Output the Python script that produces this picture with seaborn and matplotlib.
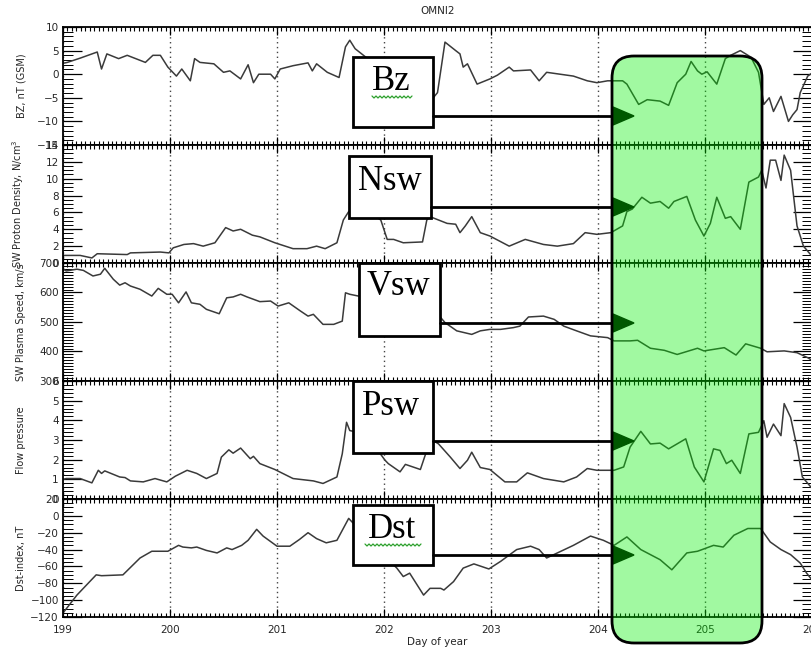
"""
OMNI2 stack plot: Bz, Nsw, Vsw, Psw, Dst vs day of year,
with annotation boxes and a green highlight window.
"""

import numpy as np
import pandas as pd
import matplotlib
matplotlib.use('Agg')
import matplotlib.pyplot as plt
import seaborn as sns
from matplotlib.ticker import MultipleLocator
from matplotlib.patches import FancyBboxPatch, Rectangle, Polygon
from matplotlib.transforms import IdentityTransform

# ---------------- data ----------------
bz_day = [199.00, 199.04, 199.16, 199.32, 199.36, 199.41, 199.52, 199.60, 199.77, 199.84,
          199.91, 199.98, 200.06, 200.11, 200.19, 200.23, 200.28, 200.41, 200.50, 200.56,
          200.66, 200.73, 200.78, 200.83, 200.94, 200.98, 201.03, 201.15, 201.29, 201.33,
          201.37, 201.47, 201.58, 201.64, 201.68, 201.73, 201.92, 202.20, 202.39, 202.46,
          202.50, 202.57, 202.67, 202.71, 202.74, 202.78, 202.87, 202.99, 203.06, 203.17,
          203.21, 203.37, 203.45, 203.52, 203.77, 203.90, 203.99, 204.09, 204.23, 204.27,
          204.38, 204.46, 204.58, 204.66, 204.74, 204.82, 204.87, 204.93, 204.97, 205.02,
          205.11, 205.19, 205.24, 205.33, 205.43, 205.50, 205.55, 205.60, 205.64, 205.71,
          205.78, 205.82, 205.86, 205.89, 205.96, 206.01]
bz = [2.3, 2.5, 3.4, 4.7, 1.1, 4.3, 3.3, 4.0, 2.5, 4.0,
      4.0, 1.5, -0.4, 1.1, -1.4, 3.3, 2.5, 2.2, 0.4, 0.7,
      -1.0, 2.0, -1.8, 0.0, 0.0, -1.0, 1.1, 1.8, 2.4, 0.7,
      2.2, 0.4, -0.7, 5.8, 7.2, 5.4, 2.0, -2.0, -4.0, -5.0,
      -3.9, 6.8, 5.0, 4.3, 1.5, 2.2, -2.1, -1.0, -0.2, 1.5,
      0.7, 0.9, -1.4, 0.4, -0.4, -1.4, -1.8, -1.4, -1.4, -2.1,
      -6.4, -5.4, -5.7, -6.6, -1.8, 0.0, 2.7, 0.7, 0.0, 0.5,
      -2.1, 3.3, 4.0, 5.0, 3.6, 0.4, -6.4, -5.0, -7.9, -4.7,
      -10.0, -8.6, -7.5, -3.9, -0.4, 0.4]

n_day = [199.00, 199.04, 199.16, 199.27, 199.32, 199.60, 199.63, 199.91, 199.99,
         200.03, 200.13, 200.22, 200.31, 200.42, 200.52, 200.59, 200.66, 200.77, 200.84, 200.98,
         201.15, 201.28, 201.37, 201.45, 201.56, 201.62, 201.67, 201.83, 201.97,
         202.03, 202.09, 202.18, 202.36, 202.40, 202.43, 202.59, 202.67, 202.71, 202.76,
         202.82, 202.90, 202.99,
         203.17, 203.32, 203.49, 203.62, 203.77, 203.88, 203.99,
         204.12, 204.23, 204.27, 204.32, 204.41, 204.49, 204.58, 204.66, 204.71, 204.83,
         204.91, 204.99,
         205.05, 205.11, 205.19, 205.24, 205.33, 205.41, 205.50, 205.53, 205.57, 205.61,
         205.66, 205.71, 205.74, 205.80, 205.86, 205.92, 206.00]
n_sw = [0.9, 0.9, 0.9, 0.6, 1.1, 1.0, 1.2, 1.3, 1.2,
        1.8, 2.2, 2.3, 2.0, 2.4, 4.2, 3.8, 4.0, 3.3, 3.1, 2.4,
        1.7, 1.7, 2.0, 1.7, 2.4, 5.1, 6.1, 6.3, 5.1,
        2.8, 2.8, 2.4, 2.5, 5.1, 5.5, 4.7, 4.6, 3.6, 4.4,
        5.5, 3.6, 3.2,
        2.0, 2.8, 2.2, 2.0, 2.3, 3.6, 3.4,
        3.6, 4.4, 6.1, 6.4, 7.8, 7.1, 7.3, 6.5, 7.3, 7.9,
        5.1, 3.2,
        4.7, 7.8, 5.3, 5.5, 4.0, 9.6, 10.2, 11.0, 8.9, 12.2,
        12.2, 9.8, 12.8, 11.0, 4.4, 2.0, 0.8]

v_day = [199.00, 199.03, 199.13, 199.19, 199.28, 199.35, 199.39, 199.47, 199.53, 199.58,
         199.63, 199.72, 199.83, 199.89, 199.97,
         200.02, 200.08, 200.15, 200.20, 200.28, 200.34, 200.46, 200.53, 200.59, 200.66,
         200.72, 200.84, 200.94,
         201.01, 201.11, 201.22, 201.29, 201.34, 201.43, 201.53, 201.61, 201.64, 201.68, 201.76,
         202.15, 202.53, 202.57, 202.68, 202.82, 202.90, 202.99,
         203.09, 203.21, 203.27, 203.35, 203.49, 203.59, 203.68, 203.80, 203.93,
         204.09, 204.15, 204.30, 204.37, 204.49, 204.62, 204.74, 204.93, 204.99,
         205.18, 205.29, 205.38, 205.52, 205.58, 205.74, 205.86, 205.96, 206.00]
v_sw = [680, 673, 679, 675, 656, 662, 682, 645, 625, 633,
        622, 611, 588, 614, 594,
        594, 565, 602, 565, 560, 543, 528, 582, 585, 594,
        585, 569, 571,
        554, 565, 537, 520, 526, 492, 492, 503, 599, 594, 588,
        570, 515, 498, 470, 458, 470, 475,
        475, 481, 486, 517, 520, 509, 486, 470, 453,
        447, 436, 436, 438, 411, 404, 390, 411, 402,
        413, 388, 426, 411, 399, 402, 396, 379, 370]

p_day = [199.00, 199.03, 199.16, 199.27, 199.33, 199.36, 199.39, 199.53, 199.58, 199.63,
         199.75, 199.86, 199.97,
         200.05, 200.16, 200.25, 200.34, 200.44, 200.48, 200.55, 200.59, 200.66, 200.75,
         200.78, 200.84, 200.98,
         201.15, 201.34, 201.43, 201.56, 201.61, 201.65, 201.68, 201.83,
         202.01, 202.04, 202.15, 202.20, 202.34, 202.40, 202.46, 202.51, 202.62, 202.71,
         202.78, 202.82, 202.90, 202.99,
         203.13, 203.24, 203.34, 203.49, 203.68, 203.80, 203.90, 203.99,
         204.15, 204.24, 204.30, 204.40, 204.49, 204.58, 204.66, 204.82, 204.90, 204.99,
         205.08, 205.14, 205.20, 205.25, 205.33, 205.41, 205.50, 205.55, 205.58, 205.64,
         205.71, 205.74, 205.80, 205.86, 205.91, 206.00]
p_sw = [1.0, 1.04, 1.04, 0.82, 1.46, 1.3, 1.43, 1.12, 1.09, 0.92,
        0.87, 1.04, 0.87,
        1.16, 1.46, 1.3, 1.04, 1.3, 2.13, 2.5, 2.33, 2.59, 2.05,
        2.17, 1.8, 1.5,
        1.04, 0.92, 0.79, 1.12, 2.3, 3.9, 3.48, 3.3,
        1.97, 1.8, 1.38, 1.76, 1.5, 2.47, 2.97, 2.8, 2.13, 1.55,
        1.97, 2.38, 1.6, 1.5,
        0.87, 0.87, 1.33, 1.04, 0.87, 1.12, 1.55, 1.46,
        1.46, 1.63, 2.64, 3.44, 2.8, 2.84, 2.55, 3.06, 1.63, 0.87,
        2.55, 2.47, 1.8, 1.97, 1.3, 3.31, 3.39, 3.98, 3.14, 3.81,
        3.22, 4.85, 4.15, 2.64, 1.12, 0.54]

dst_day = [199.00, 199.02, 199.13, 199.22, 199.31, 199.36, 199.56, 199.72, 199.83, 199.98,
           200.08, 200.12, 200.20, 200.25, 200.34, 200.44, 200.53, 200.58, 200.67, 200.73,
           200.81, 200.87,
           201.00, 201.12, 201.21, 201.29, 201.37, 201.46, 201.56, 201.67, 201.87,
           202.12, 202.18, 202.24, 202.37, 202.43, 202.53, 202.56, 202.65, 202.74, 202.84, 202.98,
           203.09, 203.24, 203.37, 203.45, 203.52, 203.62, 203.77, 203.93,
           204.05, 204.15, 204.27, 204.40, 204.58, 204.69, 204.83, 204.93,
           205.08, 205.17, 205.27, 205.40, 205.52, 205.61, 205.71, 205.80, 205.89, 205.95,
           206.00]
dst = [-115, -112, -94, -82, -70, -71, -70, -50, -42, -42,
       -35, -37, -38, -37, -41, -44, -38, -40, -35, -29,
       -16, -24,
       -36, -36, -28, -20, -27, -32, -29, -3, -30,
       -62, -72, -68, -94, -86, -86, -88, -78, -62, -57, -63,
       -54, -40, -36, -40, -50, -44, -35, -24,
       -29, -35, -25, -40, -52, -64, -44, -42,
       -35, -37, -23, -15, -15, -31, -40, -46, -56, -68,
       -76]

Y_LABELS = ['BZ, nT (GSM)', 'SW Proton Density, N/cm$^3$', 'SW Plasma Speed, km/s',
            'Flow pressure', 'Dst-index, nT']
Y_LIMS = [(-15, 10), (0, 14), (300, 700), (0, 6), (-120, 20)]
Y_MAJOR = [5, 2, 100, 1, 20]
Y_MINOR = [1, 0.5, 10, 0.2, 5]
BOX_LABELS = ['Bz', 'Nsw', 'Vsw', 'Psw', 'Dst']

# ---------------- layout (pixels, top-left origin) ----------------
W, H = 812, 647
LEFT, RIGHT, TOP, PANEL_H = 63, 812, 27, 118
LINE_COLOR = '#3a3a3a'

sns.set_theme(style='ticks')
plt.rcParams['font.family'] = ['DejaVu Sans']
plt.rcParams['mathtext.default'] = 'regular'

fig = plt.figure(figsize=(W / 100, H / 100), dpi=100)
fig.patch.set_facecolor('white')

series = [(bz_day, bz), (n_day, n_sw), (v_day, v_sw), (p_day, p_sw), (dst_day, dst)]
axes = []
for i, (xd, yd) in enumerate(series):
    bottom = 1 - (TOP + PANEL_H * (i + 1)) / H
    ax = fig.add_axes([LEFT / W, bottom, (RIGHT - LEFT) / W, PANEL_H / H])
    df = pd.DataFrame({'day': xd, 'val': yd})
    sns.lineplot(data=df, x='day', y='val', ax=ax, color=LINE_COLOR,
                 linewidth=1.1, estimator=None, sort=False)

    ax.set_xlim(199, 206)
    ax.set_ylim(*Y_LIMS[i])
    ax.xaxis.set_major_locator(MultipleLocator(1))
    ax.xaxis.set_minor_locator(MultipleLocator(1 / 24))
    ax.yaxis.set_major_locator(MultipleLocator(Y_MAJOR[i]))
    ax.yaxis.set_minor_locator(MultipleLocator(Y_MINOR[i]))
    ax.tick_params(which='both', direction='in', left=True, bottom=True,
                   top=True, right=True, color='black', labelsize=7.5, pad=3)
    ax.tick_params(axis='y', which='major', length=14, width=0.9)
    ax.tick_params(axis='y', which='minor', length=7, width=0.7)
    ax.tick_params(axis='x', which='major', length=6, width=0.9)
    ax.tick_params(axis='x', which='minor', length=3, width=0.8)
    ax.grid(axis='x', which='major', linestyle=(0, (1, 2.5)), color='#444444', linewidth=1)
    for spine in ax.spines.values():
        spine.set_visible(True)
        spine.set_color('black')
        spine.set_linewidth(1.3)

    ax.set_ylabel(Y_LABELS[i], fontsize=7)
    ax.yaxis.set_label_coords(-0.049, 0.5)
    if i < 4:
        ax.tick_params(axis='x', labelbottom=False)
        ax.set_xlabel('')
    axes.append(ax)

axes[0].set_title('OMNI2', fontsize=7.5, pad=9)
axes[-1].set_xlabel('Day of year', fontsize=7.5, labelpad=1)
axes[-1].tick_params(axis='x', pad=6)

# ---------------- annotations (pixel coordinates) ----------------
ident = IdentityTransform()


def _pt(x, y):
    """Top-left pixel -> display coordinates."""
    return x, H - y


# label boxes: (x0, y0, x1, y1), text center x, text baseline y, arrow y, arrow start
boxes = [
    ((353, 57, 433, 127), 391, 90, 116, 433),
    ((349, 156, 431, 218), 390, 190, 207, 431),
    ((359, 263, 440, 336), 398, 295, 323, 440),
    ((353, 381, 433, 453), 391, 415, 441, 433),
    ((353, 505, 433, 565), 392, 538, 555, 433),
]
for label, (rect, tx, ty, ay, ax0) in zip(BOX_LABELS, boxes):
    x0, y0, x1, y1 = rect
    fig.add_artist(Rectangle(_pt(x0, y1), x1 - x0, y1 - y0, transform=ident,
                             facecolor='white', edgecolor='black', linewidth=2, zorder=5))
    fig.text(*_pt(tx, ty), label, transform=ident, ha='center', va='baseline',
             fontsize=25, family='Liberation Serif', color='black', zorder=6)
    # connector line + arrow head
    fig.add_artist(plt.Line2D([ax0, 613], [H - ay, H - ay], transform=ident,
                              color='black', linewidth=2, zorder=5))
    fig.add_artist(Polygon([_pt(613, ay - 9), _pt(613, ay + 9), _pt(634, ay)],
                           closed=True, transform=ident, facecolor='black',
                           edgecolor='black', zorder=5))

# spell-check squiggles under "Bz" and "Dst"
for xs, xe, yy in [(372, 413, 97), (365, 422, 545)]:
    zx = np.arange(xs, xe + 1, 2)
    zy = np.where(np.arange(len(zx)) % 2 == 0, yy - 1, yy + 1)
    fig.add_artist(plt.Line2D(zx, H - zy, transform=ident, color='#2ca02c',
                              linewidth=0.9, zorder=6))

# green highlight window (semi-transparent, on top)
fig.add_artist(FancyBboxPatch(_pt(612, 643), 150, 587,
                              boxstyle='round,pad=0,rounding_size=22', transform=ident,
                              facecolor=(0.0, 0.945, 0.0, 0.37), edgecolor='black',
                              linewidth=2, zorder=10))

fig.savefig('out.png', dpi=100, facecolor='white')
